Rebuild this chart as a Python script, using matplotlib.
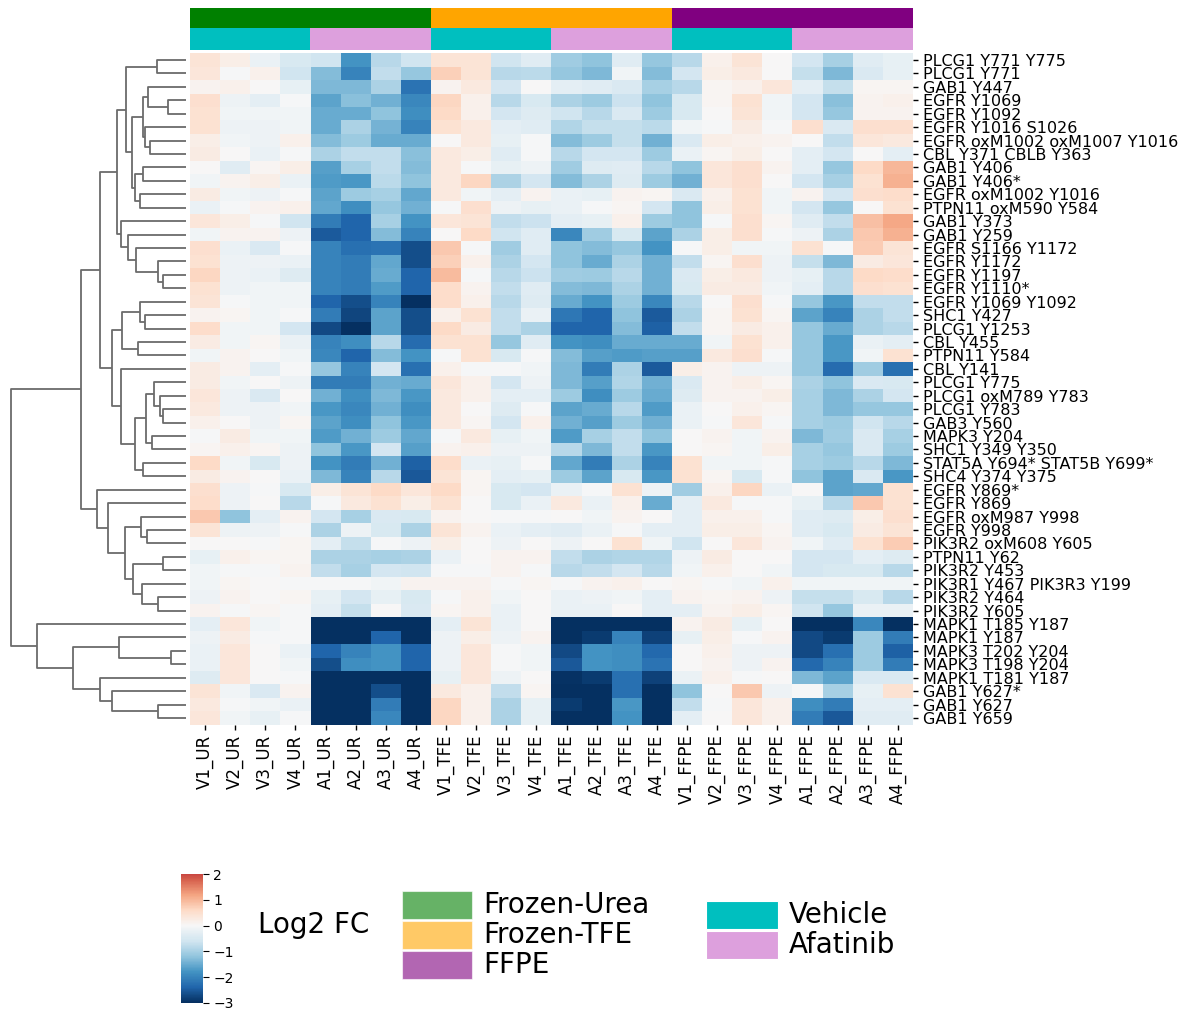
import numpy as np
import pandas as pd
import matplotlib
matplotlib.use("Agg")
import matplotlib.pyplot as plt
from matplotlib.colors import to_rgb
from matplotlib.patches import Rectangle
from matplotlib import font_manager
import seaborn as sns

# row labels (in dendrogram order, top to bottom)
sites = [
    "PLCG1 Y771 Y775", "PLCG1 Y771", "GAB1 Y447", "EGFR Y1069", "EGFR Y1092",
    "EGFR Y1016 S1026", "EGFR oxM1002 oxM1007 Y1016", "CBL Y371 CBLB Y363",
    "GAB1 Y406", "GAB1 Y406*", "EGFR oxM1002 Y1016", "PTPN11 oxM590 Y584",
    "GAB1 Y373", "GAB1 Y259", "EGFR S1166 Y1172", "EGFR Y1172", "EGFR Y1197",
    "EGFR Y1110*", "EGFR Y1069 Y1092", "SHC1 Y427", "PLCG1 Y1253", "CBL Y455",
    "PTPN11 Y584", "CBL Y141", "PLCG1 Y775", "PLCG1 oxM789 Y783", "PLCG1 Y783",
    "GAB3 Y560", "MAPK3 Y204", "SHC1 Y349 Y350", "STAT5A Y694* STAT5B Y699*",
    "SHC4 Y374 Y375", "EGFR Y869*", "EGFR Y869", "EGFR oxM987 Y998", "EGFR Y998",
    "PIK3R2 oxM608 Y605", "PTPN11 Y62", "PIK3R2 Y453", "PIK3R1 Y467 PIK3R3 Y199",
    "PIK3R2 Y464", "PIK3R2 Y605", "MAPK1 T185 Y187", "MAPK1 Y187",
    "MAPK3 T202 Y204", "MAPK3 T198 Y204", "MAPK1 T181 Y187", "GAB1 Y627*",
    "GAB1 Y627", "GAB1 Y659",
]

samples = [
    "V1_UR", "V2_UR", "V3_UR", "V4_UR", "A1_UR", "A2_UR", "A3_UR", "A4_UR",
    "V1_TFE", "V2_TFE", "V3_TFE", "V4_TFE", "A1_TFE", "A2_TFE", "A3_TFE", "A4_TFE",
    "V1_FFPE", "V2_FFPE", "V3_FFPE", "V4_FFPE", "A1_FFPE", "A2_FFPE", "A3_FFPE", "A4_FFPE",
]

methods = ["Frozen-Urea", "Frozen-TFE", "FFPE"]
method_colors = ["green", "orange", "purple"]
sample_method = [0] * 8 + [1] * 8 + [2] * 8
treatments = ["Vehicle", "Afatinib"]
treatment_colors = ["c", "plum"]
sample_treatment = ([0] * 4 + [1] * 4) * 3

# log2 fold changes, columns V1..V4, A1..A4 per method
ur_vals = [
    [0.4, 0.2, -0.2, -0.5, -0.6, -1.8, -0.85, -0.6],
    [0.35, -0.05, 0.15, -0.6, -1.3, -2.0, -0.75, -1.15],
    [0.1, 0.15, 0, -0.25, -1.35, -1.35, -0.95, -2.2],
    [0.5, -0.15, -0.3, -0.05, -1.6, -1.25, -1.45, -1.95],
    [0.45, -0.1, -0.1, -0.1, -1.5, -1.5, -1.2, -1.85],
    [0.45, -0.15, -0.15, -0.1, -1.5, -0.95, -1.4, -2.0],
    [0.2, -0.1, -0.15, 0.15, -1.3, -1.1, -1.5, -1.5],
    [0.25, 0, -0.2, -0.05, -0.95, -0.75, -0.75, -1.25],
    [0, -0.35, 0.05, 0.2, -1.65, -1.0, -0.75, -1.3],
    [-0.1, 0.1, 0.2, -0.2, -1.7, -1.75, -0.8, -1.2],
    [0.25, -0.1, -0.15, -0.05, -1.6, -1.1, -1.0, -1.55],
    [-0.2, -0.05, 0.1, 0.15, -1.55, -1.85, -1.15, -1.45],
    [0.35, 0.2, -0.05, -0.6, -2.1, -2.4, -1.0, -1.8],
    [-0.1, 0.1, 0.1, -0.15, -2.5, -2.4, -1.3, -2.0],
    [0.5, -0.2, -0.45, -0.05, -2.0, -2.25, -2.2, -2.65],
    [0.45, -0.15, -0.15, -0.2, -2.0, -2.1, -1.55, -2.65],
    [0.65, -0.15, -0.2, -0.4, -2.0, -2.1, -1.5, -2.4],
    [0.45, -0.15, -0.1, -0.1, -2.0, -2.1, -1.7, -2.4],
    [0.4, -0.05, -0.1, -0.1, -2.4, -2.65, -2.0, -3.0],
    [0.1, 0.05, -0.1, -0.05, -2.1, -2.75, -1.6, -2.65],
    [0.55, -0.1, -0.1, -0.55, -2.7, -3.0, -1.6, -2.65],
    [0.25, -0.1, 0.05, -0.2, -2.0, -1.85, -0.85, -2.3],
    [-0.1, 0.1, 0, -0.1, -1.95, -2.4, -1.3, -1.8],
    [0.25, 0.1, -0.3, -0.05, -1.15, -2.0, -0.55, -2.25],
    [0.25, -0.1, 0, -0.15, -2.1, -2.1, -1.45, -1.5],
    [0.35, -0.15, -0.45, 0, -1.45, -1.85, -1.35, -1.75],
    [0.3, -0.15, -0.15, -0.1, -1.75, -1.95, -1.45, -1.85],
    [0.15, 0, -0.15, 0.05, -1.6, -1.85, -1.2, -1.75],
    [-0.05, 0.25, -0.1, -0.1, -1.7, -1.45, -1.1, -1.55],
    [0.05, 0.15, 0.05, -0.15, -1.2, -1.75, -0.55, -1.65],
    [0.6, -0.1, -0.5, -0.15, -1.8, -2.1, -1.45, -2.45],
    [0.25, 0.1, 0, -0.2, -1.35, -2.0, -0.85, -2.55],
    [0.5, -0.15, -0.05, -0.5, 0.2, 0.4, 0.6, 0.35],
    [0.55, -0.15, 0, -0.85, -0.05, 0.3, 0.45, 0.2],
    [0.8, -1.2, -0.3, 0.1, -0.55, -1.0, -0.45, -0.5],
    [0.4, -0.15, -0.15, -0.05, -0.95, -0.15, -0.5, -0.95],
    [0, 0, -0.05, 0.05, -0.3, -0.7, -0.05, -0.15],
    [-0.25, 0.15, 0.05, 0.05, -0.95, -0.95, -1.0, -0.95],
    [-0.1, -0.05, -0.05, 0.1, -0.75, -1.0, -0.55, -0.6],
    [-0.1, 0.05, 0, -0.05, -0.05, -0.05, -0.1, 0.1],
    [-0.15, 0.1, 0, 0.05, -0.25, -0.55, -0.25, -0.5],
    [0.1, -0.05, 0.05, -0.05, -0.3, -0.7, 0, -0.45],
    [-0.3, 0.35, -0.1, -0.05, -3, -3, -3, -3],
    [-0.15, 0.25, -0.05, -0.05, -3, -3, -2.4, -3],
    [-0.2, 0.35, 0, -0.2, -2.4, -2.0, -1.8, -2.4],
    [-0.2, 0.35, 0, -0.1, -2.65, -1.85, -1.8, -2.4],
    [-0.4, 0.35, 0, -0.05, -3, -3, -3, -3],
    [0.4, -0.1, -0.45, 0.1, -3, -3, -2.65, -3],
    [0.3, -0.05, -0.1, -0.2, -3, -3, -2.1, -3],
    [0.35, -0.1, -0.25, -0.05, -3, -3, -1.95, -3],
]

tfe_vals = [
    [0.4, 0.4, -0.6, -0.35, -1.05, -1.2, -0.35, -1.15],
    [0.7, 0.4, -0.85, -0.8, -1.15, -1.35, -0.1, -1.3],
    [0.1, 0.3, -0.55, 0, -0.3, -0.35, -0.45, -1.0],
    [0.65, 0.15, -0.85, -0.5, -0.95, -1.1, -0.65, -1.2],
    [0.6, 0.15, -0.55, -0.4, -0.6, -0.85, -0.45, -1.1],
    [0.45, 0.3, -0.3, -0.35, -0.9, -0.7, -0.7, -0.8],
    [0, 0.3, -0.25, -0.05, -1.3, -1.1, -0.7, -1.45],
    [0.3, 0.2, -0.35, -0.05, -0.85, -0.55, -0.55, -1.1],
    [0.3, -0.05, -0.25, -0.15, -1.05, -0.4, -0.35, -0.85],
    [0.3, 0.65, -0.95, -0.55, -1.3, -0.95, -0.4, -1.1],
    [0.3, -0.1, -0.3, 0.1, -0.2, -0.25, 0.1, 0.05],
    [-0.05, 0.5, -0.15, -0.25, -0.2, -0.05, 0.05, -0.55],
    [0.35, 0.4, -0.75, -0.65, -0.3, -0.25, 0.15, -1.1],
    [0, 0.6, -0.6, -0.35, -1.95, -1.05, -0.5, -1.6],
    [0.8, -0.05, -1.05, -0.35, -1.2, -1.3, -1.15, -1.8],
    [0.7, 0.15, -0.95, -0.55, -1.2, -1.5, -0.95, -1.45],
    [0.95, -0.05, -0.85, -0.65, -1.05, -1.1, -0.85, -1.45],
    [0.55, 0.1, -0.75, -0.35, -1.3, -1.35, -0.95, -1.45],
    [0.55, 0.15, -0.85, -0.4, -1.5, -1.8, -1.1, -1.95],
    [0.15, 0.45, -0.75, -0.2, -2.15, -2.4, -1.2, -2.5],
    [0.6, 0.25, -0.75, -0.95, -2.4, -2.4, -1.3, -2.45],
    [0.45, 0.45, -1.15, -0.35, -1.8, -1.85, -1.5, -1.5],
    [-0.05, 0.45, -0.5, -0.05, -1.3, -1.65, -1.7, -1.65],
    [0.15, -0.05, -0.05, -0.1, -1.35, -2.1, -0.95, -2.5],
    [0.35, 0.15, -0.55, -0.15, -1.35, -1.65, -0.9, -1.45],
    [0.3, 0.15, -0.3, -0.3, -1.1, -1.85, -1.1, -1.5],
    [0.3, 0, -0.4, -0.05, -1.6, -1.5, -0.85, -1.7],
    [0.3, 0.05, -0.55, 0.15, -1.45, -1.65, -1.1, -1.45],
    [-0.05, 0.3, -0.25, -0.1, -1.7, -1.0, -0.75, -1.2],
    [0.1, 0.15, -0.15, -0.15, -0.85, -1.35, -0.75, -1.75],
    [0.55, -0.2, -0.25, -0.05, -1.55, -2.1, -0.95, -2.0],
    [0.4, 0.05, -0.3, -0.25, -1.1, -1.6, -0.5, -1.75],
    [0.6, 0.05, -0.5, -0.55, -0.2, -0.05, 0.45, -0.15],
    [0.45, 0, -0.5, -0.2, 0.3, -0.2, 0.15, -1.5],
    [0.1, 0, -0.05, -0.05, 0, -0.1, 0.1, 0],
    [0.4, 0.1, -0.2, -0.3, -0.35, -0.2, -0.05, -0.3],
    [0.2, 0, -0.15, 0, -0.15, 0, 0.45, -0.1],
    [-0.2, 0, 0.1, 0.1, -0.75, -0.95, -0.9, -0.9],
    [-0.05, -0.05, 0.1, -0.05, -0.85, -0.75, -0.55, -0.85],
    [0.1, 0.1, -0.05, 0.05, -0.05, 0.1, 0.15, 0],
    [-0.05, 0.15, -0.1, 0, -0.2, -0.15, -0.1, -0.3],
    [0.05, 0.15, -0.2, 0, -0.2, -0.2, 0, -0.3],
    [-0.3, 0.4, -0.2, 0, -3, -3, -3, -3],
    [-0.15, 0.2, -0.15, 0.1, -3, -2.85, -2.0, -2.8],
    [-0.15, 0.35, -0.05, -0.1, -2.7, -1.8, -1.85, -2.35],
    [-0.15, 0.35, -0.05, -0.1, -2.55, -1.8, -1.85, -2.2],
    [-0.25, 0.35, -0.15, 0, -2.95, -2.85, -2.25, -2.8],
    [0.3, 0.15, -0.75, 0.05, -3, -3, -2.25, -3],
    [0.65, 0.15, -0.95, -0.25, -2.85, -3, -1.75, -3],
    [0.65, 0.15, -0.95, -0.25, -3, -3, -1.8, -3],
]

ffpe_vals = [
    [-0.85, 0.15, 0.4, 0, -0.55, -1.0, -0.35, -0.25],
    [-0.55, 0.2, 0.3, 0, -0.7, -1.35, -0.45, -0.25],
    [-0.85, 0.05, 0.15, 0.35, -0.3, -0.7, 0.05, 0.05],
    [-0.5, 0.05, 0.45, -0.1, -0.55, -1.25, 0.1, 0.15],
    [-0.5, 0, 0.4, -0.1, -0.55, -1.15, 0.1, 0.1],
    [-0.1, -0.05, 0.25, -0.05, 0.5, -0.45, 0.5, 0.5],
    [-0.45, 0.2, 0.15, 0.1, 0, -0.75, 0.35, 0.3],
    [-0.2, 0.05, 0.2, 0, -0.3, -0.55, 0, -0.3],
    [-1.2, 0.35, 0.5, 0.1, -0.3, -1.15, 0.6, 1.0],
    [-1.45, 0.35, 0.5, 0, -0.55, -1.0, 0.45, 1.05],
    [-0.45, 0.15, 0.45, -0.1, 0.1, -0.55, 0.5, 0.55],
    [-1.2, 0.2, 0.45, -0.1, -0.55, -1.15, 0, 0.45],
    [-1.2, -0.05, 0.5, 0.05, -0.35, -0.75, 0.9, 1.15],
    [-0.95, 0.2, 0.5, -0.05, -0.15, -0.95, 0.8, 1.05],
    [-0.05, 0.2, -0.1, -0.1, 0.45, -0.05, 0.75, 0.4],
    [-0.75, 0.05, 0.5, -0.15, -0.7, -1.35, 0.25, 0.35],
    [-0.45, 0.2, 0.3, -0.15, -0.25, -0.85, 0.6, 0.55],
    [-0.5, 0.25, 0.25, -0.1, -0.3, -0.85, 0.5, 0.45],
    [-0.85, 0, 0.5, -0.05, -1.15, -1.75, -0.75, -0.75],
    [-0.95, 0.05, 0.45, 0.05, -1.6, -2.0, -0.95, -0.75],
    [-0.75, 0.05, 0.25, 0.15, -1.15, -1.5, -0.95, -0.85],
    [-1.5, -0.1, 0.45, 0.15, -1.15, -1.75, -0.2, -0.3],
    [-1.65, 0.3, 0.5, -0.05, -1.15, -1.75, -0.1, 0.45],
    [0.2, 0.1, -0.15, -0.15, -1.15, -2.3, -1.05, -2.25],
    [-0.45, 0.1, 0.2, 0.05, -0.95, -1.2, -0.45, -0.5],
    [-0.4, 0.1, 0.1, 0.2, -1.0, -1.35, -0.95, -0.55],
    [-0.2, 0, 0.15, 0.05, -1.0, -1.35, -1.15, -1.15],
    [-0.2, -0.05, 0.35, -0.05, -1.0, -1.1, -0.6, -0.85],
    [0, 0.1, -0.1, 0.1, -1.35, -1.05, -0.45, -1.0],
    [0, 0.05, -0.1, 0.2, -1.0, -1.15, -0.45, -1.1],
    [0.45, -0.1, -0.1, -0.05, -1.0, -1.1, -0.85, -1.35],
    [0.45, 0.05, -0.5, -0.05, -1.2, -1.6, -0.45, -1.75],
    [-1.05, 0.15, 0.65, -0.2, 0, -1.6, -1.55, 0.45],
    [-0.3, 0.3, -0.05, -0.05, -0.25, -0.85, 0.8, 0.45],
    [-0.3, 0.15, 0.15, -0.05, -0.35, -0.4, 0.2, 0.5],
    [-0.3, 0.2, 0.2, 0.05, -0.35, -0.5, 0.25, 0.4],
    [-0.6, 0, 0.35, 0.1, -0.1, -0.35, 0.45, 0.75],
    [-0.15, 0.25, 0, 0, -0.55, -0.55, -0.3, -0.4],
    [-0.1, 0.15, 0, -0.1, -0.55, -0.5, -0.5, -0.85],
    [0.05, -0.05, -0.1, 0.15, -0.1, -0.1, -0.1, -0.1],
    [0.1, 0.05, 0.1, -0.15, -0.7, -0.7, -0.5, -0.85],
    [-0.3, 0.1, 0.2, 0.05, -0.6, -1.15, -0.2, -0.2],
    [0.1, 0.25, -0.25, 0, -3, -3, -1.95, -3],
    [-0.25, 0.2, -0.05, 0.1, -2.7, -2.85, -1.1, -2.1],
    [0, 0.15, -0.15, -0.15, -2.7, -2.25, -1.1, -2.45],
    [0, 0.1, -0.15, 0.1, -2.35, -2.0, -1.1, -2.1],
    [-0.2, 0.15, -0.05, 0, -1.35, -1.6, -0.45, -0.45],
    [-1.2, 0, 0.8, -0.15, -0.05, -1.0, -0.25, 0.45],
    [-0.75, -0.05, 0.35, 0.15, -1.85, -2.1, -0.3, -0.3],
    [-0.3, 0, 0.35, 0.15, -2.1, -2.55, -0.35, -0.35],
]

# row dendrogram: (child a, child b, height); node ids continue after the 50 leaves
row_tree = [
    (0, 1, 29), (3, 4, 18), (2, 51, 38), (6, 7, 36), (5, 53, 41),
    (52, 54, 43), (8, 9, 43), (10, 11, 46), (56, 57, 51), (55, 58, 54),
    (50, 59, 60), (16, 17, 23), (15, 61, 28), (14, 62, 50), (13, 63, 58),
    (12, 64, 65), (60, 65, 69), (19, 20, 41), (18, 67, 46), (21, 22, 48),
    (68, 69, 64), (26, 27, 23), (25, 71, 26), (24, 72, 32), (28, 29, 34),
    (73, 74, 40), (30, 31, 43), (75, 76, 51), (23, 77, 65), (70, 78, 74),
    (66, 79, 86), (35, 36, 39), (34, 81, 45), (37, 38, 23), (40, 41, 28),
    (39, 84, 44), (83, 85, 53), (82, 86, 61), (33, 87, 78), (32, 88, 89),
    (80, 89, 105), (44, 45, 15), (43, 91, 67), (48, 49, 28), (47, 93, 74),
    (46, 94, 86), (92, 95, 113), (42, 96, 149), (90, 97, 175),
]

df = pd.DataFrame(np.hstack([ur_vals, tfe_vals, ffpe_vals]), index=sites, columns=samples)

available = {f.name for f in font_manager.fontManager.ttflist}
if "Liberation Sans Narrow" in available:
    leg_font, leg_size = "Liberation Sans Narrow", 24
else:
    leg_font, leg_size = "DejaVu Sans", 20

W, H = 1195, 1010
fig = plt.figure(figsize=(W / 100, H / 100), dpi=100)


def box(x0, y0, x1, y1):
    # pixel box (top-left origin) -> figure rect
    return [x0 / W, 1 - y1 / H, (x1 - x0) / W, (y1 - y0) / H]


ax = fig.add_axes(box(190, 53.3, 913, 724.7))
cax = fig.add_axes(box(181, 874, 203, 1003))
ax_col = fig.add_axes(box(190, 7.5, 913, 50))
ax_tree = fig.add_axes(box(10, 53.3, 186, 724.7))

sns.heatmap(df, ax=ax, cmap="RdBu_r", center=0, vmin=-3, vmax=2, cbar_ax=cax,
            xticklabels=True, yticklabels=True)
ax.yaxis.tick_right()
ax.set_ylabel("")
ax.set_xlabel("")
ax.tick_params(axis="y", labelsize=11.5, rotation=0, length=3.5, width=1)
ax.tick_params(axis="x", labelsize=12, rotation=90, length=3.5, width=1)

cax.set_yticks([-3, -2, -1, 0, 1, 2])
cax.tick_params(labelsize=10, length=4)
fig.text(258 / W, 1 - 925 / H, "Log2 FC", fontsize=leg_size, family=leg_font, va="center")

# column colour strips
strip = np.array([[to_rgb(method_colors[m]) for m in sample_method],
                  [to_rgb(treatment_colors[t]) for t in sample_treatment]])
ax_col.imshow(strip, aspect="auto", interpolation="nearest")
ax_col.set_axis_off()

# dendrogram
pos = {i: i + 0.5 for i in range(len(sites))}
hgt = {i: 0.0 for i in range(len(sites))}
for k, (a, b, h) in enumerate(row_tree):
    ax_tree.plot([hgt[a], h, h, hgt[b]], [pos[a], pos[a], pos[b], pos[b]],
                 color="0.42", lw=1.3, solid_capstyle="butt")
    node = len(sites) + k
    pos[node] = (pos[a] + pos[b]) / 2
    hgt[node] = h
ax_tree.set_xlim(176, 0)
ax_tree.set_ylim(len(sites), 0)
ax_tree.set_axis_off()


def legend_block(labels, colors, x0, x1, tops, alpha, text_x):
    for lab, col, top in zip(labels, colors, tops):
        fig.add_artist(Rectangle((x0 / W, 1 - (top + 28) / H), (x1 - x0) / W, 28 / H,
                                 transform=fig.transFigure, facecolor=col, alpha=alpha,
                                 edgecolor="white", lw=0.8))
        fig.text(text_x / W, 1 - (top + 14) / H, lab, fontsize=leg_size,
                 family=leg_font, va="center")


legend_block(methods, method_colors, 402, 472, [891, 921, 951], 0.6, 483)
legend_block(treatments, treatment_colors, 706, 778, [901, 931], 1.0, 789)

fig.savefig("out.png", dpi=100)
